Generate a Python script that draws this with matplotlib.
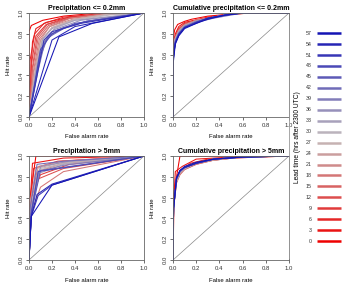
import numpy as np
import matplotlib.pyplot as plt
from matplotlib.colors import LinearSegmentedColormap

plt.rcParams.update({
    "font.family": ["Liberation Sans", "DejaVu Sans"],
})

leads = list(range(0, 60, 3))

# ROC curves per lead time: (false alarm rate, hit rate)
tl_far = [
    [0, 0, 0.02, 0.12, 0.3, 0.6, 1],
    [0, 0.03, 0.06, 0.15, 0.35, 0.65, 1],
    [0, 0.01, 0.05, 0.13, 0.3, 0.6, 1],
    [0, 0.02, 0.06, 0.15, 0.32, 0.6, 1],
    [0, 0.03, 0.07, 0.16, 0.35, 0.65, 1],
    [0, 0.03, 0.08, 0.17, 0.35, 0.65, 1],
    [0, 0.04, 0.09, 0.18, 0.36, 0.65, 1],
    [0, 0.04, 0.1, 0.18, 0.38, 0.7, 1],
    [0, 0.05, 0.1, 0.2, 0.4, 0.7, 1],
    [0, 0.05, 0.11, 0.2, 0.4, 0.7, 1],
    [0, 0.06, 0.12, 0.22, 0.4, 0.7, 1],
    [0, 0.06, 0.12, 0.2, 0.4, 1],
    [0, 0.07, 0.13, 0.22, 0.45, 1],
    [0, 0.08, 0.14, 0.25, 0.5, 1],
    [0, 0.09, 0.16, 0.3, 0.5, 1],
    [0, 0.1, 0.17, 0.3, 0.5, 1],
    [0, 0.1, 0.2, 0.4, 1],
    [0, 0.13, 0.2, 0.45, 1],
    [0, 0.2, 0.4, 1],
    [0, 0.26, 0.55, 1],
]
tl_hr = [
    [0, 0.82, 0.88, 0.93, 0.97, 1, 1],
    [0, 0.72, 0.85, 0.91, 0.96, 0.99, 1],
    [0, 0.55, 0.8, 0.9, 0.96, 0.99, 1],
    [0, 0.5, 0.78, 0.89, 0.95, 0.99, 1],
    [0, 0.48, 0.77, 0.89, 0.95, 0.99, 1],
    [0, 0.45, 0.76, 0.88, 0.95, 0.99, 1],
    [0, 0.45, 0.75, 0.87, 0.95, 0.99, 1],
    [0, 0.42, 0.74, 0.87, 0.94, 0.99, 1],
    [0, 0.42, 0.73, 0.86, 0.94, 0.99, 1],
    [0, 0.4, 0.73, 0.86, 0.94, 0.99, 1],
    [0, 0.4, 0.72, 0.85, 0.93, 0.98, 1],
    [0, 0.45, 0.75, 0.85, 0.93, 1],
    [0, 0.42, 0.72, 0.84, 0.93, 1],
    [0, 0.45, 0.73, 0.84, 0.92, 1],
    [0, 0.55, 0.76, 0.85, 0.92, 1],
    [0, 0.62, 0.78, 0.86, 0.92, 1],
    [0, 0.65, 0.8, 0.9, 1],
    [0, 0.74, 0.82, 0.9, 1],
    [0, 0.74, 0.87, 1],
    [0, 0.77, 0.9, 1],
]

tr_far = [
    [0, 0, 0.005, 0.015, 0.04, 0.1, 0.16, 0.3, 0.5, 0.7, 1],
    [0, 0, 0.005, 0.02, 0.05, 0.1, 0.18, 0.3, 0.5, 0.7, 1],
    [0, 0, 0.005, 0.02, 0.05, 0.1, 0.2, 0.35, 0.5, 0.7, 1],
    [0, 0, 0.005, 0.02, 0.05, 0.1, 0.2, 0.35, 0.5, 0.65, 1],
    [0, 0, 0.005, 0.02, 0.05, 0.1, 0.2, 0.35, 0.5, 0.65, 1],
    [0, 0, 0.006, 0.02, 0.05, 0.1, 0.2, 0.35, 0.5, 0.65, 1],
    [0, 0, 0.006, 0.02, 0.05, 0.1, 0.2, 0.35, 0.5, 0.65, 1],
    [0, 0, 0.006, 0.02, 0.05, 0.1, 0.2, 0.35, 0.5, 0.65, 1],
    [0, 0, 0.007, 0.02, 0.05, 0.1, 0.2, 0.35, 0.5, 0.65, 1],
    [0, 0, 0.007, 0.02, 0.05, 0.1, 0.2, 0.35, 0.5, 0.65, 1],
    [0, 0, 0.008, 0.02, 0.05, 0.1, 0.2, 0.35, 0.5, 0.65, 1],
    [0, 0, 0.008, 0.02, 0.05, 0.1, 0.2, 0.35, 0.5, 0.65, 1],
    [0, 0, 0.008, 0.02, 0.05, 0.1, 0.2, 0.35, 0.5, 0.6, 1],
    [0, 0, 0.009, 0.02, 0.05, 0.1, 0.2, 0.35, 0.5, 0.6, 1],
    [0, 0, 0.009, 0.02, 0.05, 0.1, 0.2, 0.35, 0.5, 0.6, 1],
    [0, 0, 0.01, 0.02, 0.05, 0.1, 0.2, 0.3, 0.45, 0.6, 1],
    [0, 0, 0.01, 0.02, 0.05, 0.1, 0.2, 0.3, 0.45, 0.6, 1],
    [0, 0, 0.01, 0.02, 0.05, 0.1, 0.2, 0.3, 0.45, 0.6, 1],
    [0, 0, 0.01, 0.02, 0.05, 0.1, 0.2, 0.3, 0.45, 0.6, 1],
    [0, 0, 0.012, 0.02, 0.05, 0.1, 0.2, 0.3, 0.45, 0.6, 1],
]
tr_hr = [
    [0, 0.6, 0.78, 0.84, 0.89, 0.92, 0.94, 0.97, 0.99, 1, 1],
    [0, 0.62, 0.72, 0.8, 0.87, 0.91, 0.93, 0.96, 0.99, 1, 1],
    [0, 0.62, 0.7, 0.78, 0.85, 0.9, 0.93, 0.96, 0.99, 1, 1],
    [0, 0.62, 0.69, 0.77, 0.84, 0.89, 0.93, 0.96, 0.99, 1, 1],
    [0, 0.62, 0.69, 0.77, 0.84, 0.89, 0.93, 0.96, 0.99, 1, 1],
    [0, 0.61, 0.68, 0.76, 0.84, 0.89, 0.93, 0.96, 0.99, 1, 1],
    [0, 0.61, 0.68, 0.76, 0.83, 0.89, 0.93, 0.96, 0.99, 1, 1],
    [0, 0.6, 0.68, 0.76, 0.83, 0.88, 0.93, 0.96, 0.99, 1, 1],
    [0, 0.6, 0.67, 0.75, 0.83, 0.88, 0.92, 0.96, 0.99, 1, 1],
    [0, 0.6, 0.67, 0.75, 0.82, 0.88, 0.92, 0.96, 0.99, 1, 1],
    [0, 0.6, 0.67, 0.75, 0.82, 0.88, 0.92, 0.96, 0.99, 1, 1],
    [0, 0.58, 0.66, 0.74, 0.82, 0.88, 0.92, 0.96, 0.99, 1, 1],
    [0, 0.58, 0.66, 0.74, 0.81, 0.87, 0.92, 0.96, 0.99, 1, 1],
    [0, 0.57, 0.65, 0.73, 0.81, 0.87, 0.92, 0.96, 0.99, 1, 1],
    [0, 0.56, 0.65, 0.73, 0.8, 0.87, 0.91, 0.95, 0.98, 1, 1],
    [0, 0.55, 0.64, 0.72, 0.8, 0.86, 0.91, 0.95, 0.98, 1, 1],
    [0, 0.54, 0.64, 0.72, 0.8, 0.86, 0.91, 0.95, 0.98, 1, 1],
    [0, 0.53, 0.63, 0.71, 0.79, 0.86, 0.91, 0.95, 0.98, 1, 1],
    [0, 0.52, 0.63, 0.71, 0.79, 0.86, 0.9, 0.95, 0.98, 1, 1],
    [0, 0.5, 0.62, 0.7, 0.78, 0.85, 0.9, 0.94, 0.98, 1, 1],
]

bl_far = [
    [0, 0.01, 0.06, 1],
    [0, 0.01, 0.03, 0.3, 1],
    [0, 0.01, 0.04, 0.25, 1],
    [0, 0.02, 0.1, 0.35, 1],
    [0, 0.02, 0.08, 0.3, 1],
    [0, 0.01, 0.07, 0.3, 1],
    [0, 0.02, 0.1, 0.3, 1],
    [0, 0.02, 0.08, 0.3, 1],
    [0, 0.01, 0.06, 0.3, 1],
    [0, 0.02, 0.08, 0.3, 1],
    [0, 0.02, 0.1, 0.4, 1],
    [0, 0.02, 0.08, 0.3, 1],
    [0, 0.02, 0.1, 0.35, 1],
    [0, 0.02, 0.08, 0.3, 1],
    [0, 0.01, 0.07, 0.3, 1],
    [0, 0.02, 0.1, 1],
    [0, 0.02, 0.08, 1],
    [0, 0.02, 0.08, 0.2, 1],
    [0, 0.02, 0.07, 0.2, 1],
    [0, 0.02, 0.2, 1],
]
bl_hr = [
    [0, 0.6, 1.0, 1],
    [0, 0.55, 0.93, 0.98, 1],
    [0, 0.5, 0.88, 0.95, 1],
    [0, 0.6, 0.82, 0.92, 1],
    [0, 0.5, 0.78, 0.88, 1],
    [0, 0.55, 0.85, 0.93, 1],
    [0, 0.45, 0.7, 0.85, 1],
    [0, 0.5, 0.9, 0.95, 1],
    [0, 0.55, 0.88, 0.94, 1],
    [0, 0.5, 0.86, 0.93, 1],
    [0, 0.48, 0.88, 0.95, 1],
    [0, 0.45, 0.83, 0.92, 1],
    [0, 0.5, 0.9, 0.95, 1],
    [0, 0.45, 0.85, 0.91, 1],
    [0, 0.5, 0.92, 0.95, 1],
    [0, 0.45, 0.86, 1],
    [0, 0.45, 0.85, 1],
    [0, 0.42, 0.62, 0.72, 1],
    [0, 0.42, 0.63, 0.73, 1],
    [0, 0.42, 0.72, 1],
]

br_far = [
    [0, 0.01, 0.06, 1],
    [0, 0.005, 0.02, 0.08, 0.2, 0.5, 1],
    [0, 0.005, 0.03, 0.07, 0.15, 0.3, 0.6, 1],
    [0, 0.005, 0.03, 0.06, 0.12, 0.25, 0.5, 1],
    [0, 0.005, 0.03, 0.07, 0.12, 0.25, 0.5, 1],
    [0, 0.005, 0.03, 0.06, 0.1, 0.2, 0.35, 0.6, 1],
    [0, 0.005, 0.03, 0.06, 0.1, 0.2, 0.35, 0.6, 1],
    [0, 0.005, 0.03, 0.06, 0.1, 0.2, 0.35, 0.6, 1],
    [0, 0.005, 0.03, 0.06, 0.1, 0.2, 0.35, 0.6, 1],
    [0, 0.005, 0.03, 0.06, 0.1, 0.2, 0.35, 0.6, 1],
    [0, 0.005, 0.03, 0.06, 0.1, 0.2, 0.35, 0.6, 1],
    [0, 0.005, 0.03, 0.06, 0.1, 0.2, 0.35, 0.6, 1],
    [0, 0.005, 0.03, 0.06, 0.1, 0.2, 0.35, 0.6, 1],
    [0, 0.005, 0.03, 0.06, 0.1, 0.2, 0.35, 0.6, 1],
    [0, 0.005, 0.03, 0.06, 0.1, 0.2, 0.35, 0.6, 1],
    [0, 0.005, 0.03, 0.06, 0.1, 0.2, 0.35, 0.6, 1],
    [0, 0.005, 0.03, 0.06, 0.1, 0.2, 0.35, 0.6, 1],
    [0, 0.005, 0.03, 0.06, 0.1, 0.2, 0.35, 0.6, 1],
    [0, 0.005, 0.03, 0.06, 0.1, 0.2, 0.35, 0.6, 1],
    [0, 0.005, 0.03, 0.06, 0.1, 0.2, 0.35, 0.6, 1],
]
br_hr = [
    [0, 0.66, 1.0, 1],
    [0, 0.55, 0.85, 0.9, 0.97, 0.99, 1],
    [0, 0.5, 0.8, 0.86, 0.93, 0.97, 0.99, 1],
    [0, 0.52, 0.76, 0.84, 0.9, 0.95, 0.98, 1],
    [0, 0.5, 0.76, 0.86, 0.9, 0.95, 0.98, 1],
    [0, 0.5, 0.74, 0.82, 0.87, 0.92, 0.96, 0.99, 1],
    [0, 0.5, 0.75, 0.83, 0.87, 0.92, 0.96, 0.99, 1],
    [0, 0.5, 0.75, 0.83, 0.88, 0.93, 0.96, 0.99, 1],
    [0, 0.5, 0.76, 0.84, 0.88, 0.93, 0.96, 0.99, 1],
    [0, 0.5, 0.76, 0.84, 0.88, 0.93, 0.97, 0.99, 1],
    [0, 0.5, 0.76, 0.84, 0.88, 0.93, 0.97, 0.99, 1],
    [0, 0.5, 0.77, 0.85, 0.88, 0.93, 0.97, 0.99, 1],
    [0, 0.5, 0.77, 0.85, 0.89, 0.93, 0.97, 0.99, 1],
    [0, 0.5, 0.77, 0.85, 0.89, 0.93, 0.97, 0.99, 1],
    [0, 0.5, 0.78, 0.85, 0.89, 0.93, 0.97, 0.99, 1],
    [0, 0.5, 0.78, 0.85, 0.89, 0.93, 0.97, 0.99, 1],
    [0, 0.5, 0.78, 0.86, 0.89, 0.93, 0.97, 0.99, 1],
    [0, 0.5, 0.78, 0.86, 0.89, 0.93, 0.97, 0.99, 1],
    [0, 0.5, 0.79, 0.86, 0.89, 0.93, 0.97, 0.99, 1],
    [0, 0.5, 0.79, 0.86, 0.9, 0.94, 0.97, 0.99, 1],
]

titles = ["Precipitation <= 0.2mm", "Cumulative precipitation <= 0.2mm",
          "Precipitation > 5mm", "Cumulative precipitation > 5mm"]
panels = [(tl_far, tl_hr), (tr_far, tr_hr), (bl_far, bl_hr), (br_far, br_hr)]
ticks = [0.0, 0.2, 0.4, 0.6, 0.8, 1.0]

cmap = LinearSegmentedColormap.from_list("rgb", ["#EE0000", "#C4BCBC", "#1414B4"])
colors = [cmap(i / (len(leads) - 1)) for i in range(len(leads))]

W, H = 343, 287
fig = plt.figure(figsize=(W / 100, H / 100), dpi=100)

# pixel boxes (left, top, right, bottom)
boxes = [(29, 13, 144, 117), (173, 13, 289, 117),
         (29, 156, 144, 260), (173, 156, 289, 260)]

for k, (far, hr) in enumerate(panels):
    l, t, r, b = boxes[k]
    ax = fig.add_axes([l / W, 1 - b / H, (r - l) / W, (b - t) / H])
    ax.plot([0, 1], [0, 1], color="#888888", lw=0.5)
    for j in range(len(leads)):
        ax.plot(far[j], hr[j], color=colors[j], lw=0.75)
    ax.set_xlim(0, 1)
    ax.set_ylim(0, 1)
    ax.set_xticks(ticks)
    ax.set_yticks(ticks)
    ax.set_xticklabels([f"{v:.1f}" for v in ticks])
    ax.set_yticklabels([f"{v:.1f}" for v in ticks], rotation=90, va="center")
    ax.tick_params(labelsize=4.3, length=2, width=0.5, pad=2, colors="#333333")
    for s in ax.spines.values():
        s.set_linewidth(0.6)
        s.set_color("#666666")
    ax.set_xlabel("False alarm rate", fontsize=4.3, labelpad=5)
    ax.set_ylabel("Hit rate", fontsize=4.3, labelpad=5)
    ax.set_title(titles[k], fontsize=5.0, fontweight="bold", pad=2)

# legend panel
lax = fig.add_axes([289 / W, 1 - 258 / H, 54 / W, 238 / H])
lax.set_xlim(0, 1)
lax.set_ylim(-1.54, 20.2)
for j, ld in enumerate(leads):
    lax.plot([0.52, 0.96], [j, j], color=colors[j], lw=1.8, solid_capstyle="butt")
    lax.text(0.42, j, str(ld), fontsize=3.8, ha="right", va="center", color="#333333")
lax.text(0.16, 9.5, "Lead time (hrs after 2300 UTC)", rotation=90,
         fontsize=4.8, ha="center", va="center")
lax.set_xticks([])
lax.set_yticks([])
for s in ["top", "right", "bottom"]:
    lax.spines[s].set_visible(False)
lax.spines["left"].set_color("#999999")
lax.spines["left"].set_linewidth(0.6)
lax.patch.set_alpha(0)

fig.savefig("out.png", dpi=100)
